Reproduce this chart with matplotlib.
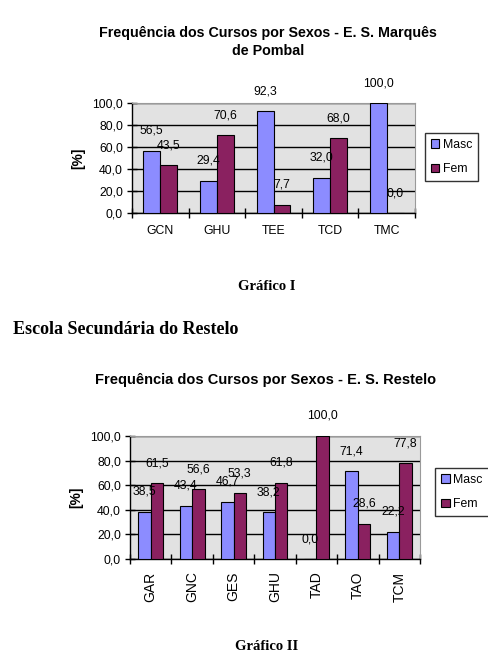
import matplotlib
matplotlib.use("Agg")
import matplotlib.pyplot as plt
import numpy as np
from matplotlib.patches import Patch

# ---- data ----
cats1 = ["GCN", "GHU", "TEE", "TCD", "TMC"]
masc1 = [56.5, 29.4, 92.3, 32.0, 100.0]
fem1 = [43.5, 70.6, 7.7, 68.0, 0.0]

cats2 = ["GAR", "GNC", "GES", "GHU", "TAD", "TAO", "TCM"]
masc2 = [38.5, 43.4, 46.7, 38.2, 0.0, 71.4, 22.2]
fem2 = [61.5, 56.6, 53.3, 61.8, 100.0, 28.6, 77.8]

yticks = [0, 20, 40, 60, 80, 100]
title1 = "Frequência dos Cursos por Sexos - E. S. Marquês\nde Pombal"
title2 = "Frequência dos Cursos por Sexos - E. S. Restelo"
series_names = ["Masc", "Fem"]

C_M = "#8C8CFF"
C_F = "#8A2160"
BG = "#E2E2E2"
SANS = ["Liberation Sans", "DejaVu Sans"]
SERIF = ["Liberation Serif", "DejaVu Serif"]
FS = 8.8

W, H = 489, 653
fig = plt.figure(figsize=(W / 100, H / 100), dpi=100)


def fmt(v):
    return f"{v:.1f}".replace(".", ",")


def draw(rect, cats, masc, fem, rot_labels, legend_rect):
    ax = fig.add_axes(rect)
    ax.set_facecolor(BG)
    n = len(cats)
    x = np.arange(n)
    w = 0.3
    for vals, off, col in ((masc, -w / 2, C_M), (fem, w / 2, C_F)):
        bars = ax.bar(x + off, vals, w, color=col, edgecolor="black", linewidth=0.8, zorder=3)
        for b, v in zip(bars, vals):
            ax.annotate(fmt(v), (b.get_x() + b.get_width() / 2, v), xytext=(0, 20),
                        textcoords="offset pixels", ha="center", va="center",
                        fontsize=FS, family=SANS, annotation_clip=False, zorder=5)
    ax.set_xlim(-0.5, n - 0.5)
    ax.set_ylim(0, 100)
    ax.set_yticks(yticks)
    ax.set_yticklabels([fmt(v) for v in yticks], family=SANS, fontsize=FS)
    ax.yaxis.grid(True, color="black", linewidth=1.0, zorder=1)
    ax.set_axisbelow(True)
    ax.set_xticks(x)
    if rot_labels:
        ax.set_xticklabels(cats, rotation=90, family=SANS, fontsize=10)
    else:
        ax.set_xticklabels(cats, family=SANS, fontsize=FS)
    ax.tick_params(axis="x", which="major", length=0, pad=9)
    ax.set_xticks(np.arange(n + 1) - 0.5, minor=True)
    ax.tick_params(axis="x", which="minor", length=7, direction="inout", width=1)
    ax.tick_params(axis="y", length=7, direction="inout", width=1, pad=3)
    for s in ("top", "right"):
        ax.spines[s].set_color("#9A9A9A")
        ax.spines[s].set_linewidth(0.8)
    for s in ("left", "bottom"):
        ax.spines[s].set_color("black")
        ax.spines[s].set_linewidth(1.0)
    ax.set_ylabel("[%]", fontweight="bold", family=SANS, fontsize=10, labelpad=5)
    handles = [Patch(facecolor=C_M, edgecolor="black", linewidth=0.8),
               Patch(facecolor=C_F, edgecolor="black", linewidth=0.8)]
    leg = fig.legend(handles, series_names, loc="center",
                     bbox_to_anchor=legend_rect, bbox_transform=fig.transFigure,
                     prop={"family": SANS, "size": FS}, frameon=True, fancybox=False,
                     handlelength=0.7, handleheight=0.7, handletextpad=0.3,
                     labelspacing=1.0, borderpad=0.5, borderaxespad=0)
    leg.get_frame().set_edgecolor("black")
    leg.get_frame().set_linewidth(1.0)
    return ax


def fx(px):
    return px / W


def fy(py):
    return 1 - py / H


# chart 1
ax1 = draw([fx(132), fy(213), fx(415 - 132), (213 - 103) / H], cats1, masc1, fem1, False,
           (fx(428), fy(183), fx(475 - 428), (183 - 131) / H))
fig.text(fx(268), fy(42), title1, ha="center", va="center", fontsize=10.3,
         fontweight="bold", family=SANS, linespacing=1.35)
fig.text(fx(267), fy(287), "Gráfico I", ha="center", va="center", fontsize=10.5,
         fontweight="bold", family=SERIF)
fig.text(fx(13), fy(330), "Escola Secundária do Restelo", ha="left", va="center",
         fontsize=13, fontweight="bold", family=SERIF)

# chart 2
ax2 = draw([fx(130), fy(559), fx(420 - 130), (559 - 436) / H], cats2, masc2, fem2, True,
           (fx(434), fy(520), fx(490 - 434), (520 - 464) / H))
fig.text(fx(266), fy(380), title2, ha="center", va="center", fontsize=10.5,
         fontweight="bold", family=SANS)
fig.text(fx(267), fy(646), "Gráfico II", ha="center", va="center", fontsize=10.5,
         fontweight="bold", family=SERIF)

fig.savefig("out.png", dpi=100)
